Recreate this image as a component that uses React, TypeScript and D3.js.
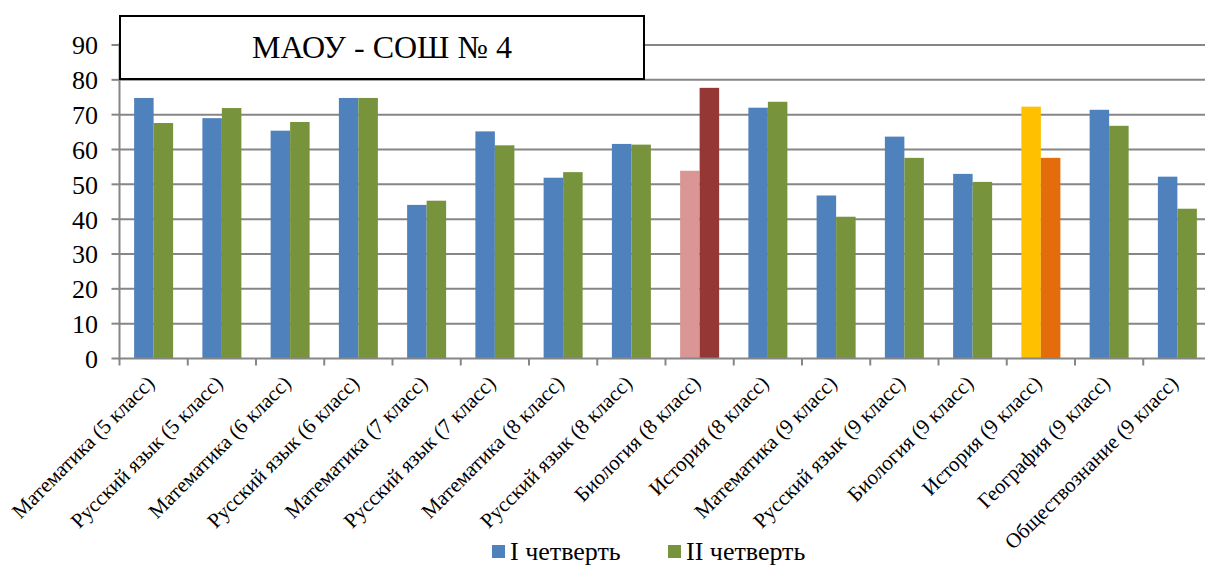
import React from 'react';
import * as d3 from 'd3';

const categories = [
  'Математика (5 класс)',
  'Русский язык (5 класс)',
  'Математика (6 класс)',
  'Русский язык (6 класс)',
  'Математика (7 класс)',
  'Русский язык (7 класс)',
  'Математика (8 класс)',
  'Русский язык (8 класс)',
  'Биология (8 класс)',
  'История (8 класс)',
  'Математика (9 класс)',
  'Русский язык (9 класс)',
  'Биология (9 класс)',
  'История (9 класс)',
  'География (9 класс)',
  'Обществознание (9 класс)',
];

const quarter1 = [74.8, 69.0, 65.4, 74.8, 44.1, 65.2, 51.9, 61.6, 53.9, 72.0, 46.8, 63.7, 53.0, 72.3, 71.4, 52.2];
const quarter2 = [67.6, 71.9, 67.9, 74.8, 45.3, 61.2, 53.5, 61.4, 77.7, 73.7, 40.7, 57.6, 50.7, 57.6, 66.8, 43.0];

const seriesNames = ['I четверть', 'II четверть'];
const yTicks = [0, 10, 20, 30, 40, 50, 60, 70, 80, 90];

const seriesColors = ['#4F81BD', '#77933C'];
// individually recoloured bars (category index -> [I, II])
const colorOverrides: Record<number, string[]> = {
  8: ['#D99694', '#953735'],
  13: ['#FFC000', '#E46C0A'],
};

const W = 1205;
const H = 566;
const margin = { left: 119.5, right: -6.5, top: 45, bottom: 207.5 };
const font = "'Liberation Serif', 'Times New Roman', serif";

export default function App() {
  const x = d3
    .scaleBand<string>()
    .domain(categories)
    .range([margin.left, W - margin.right])
    .paddingInner(0)
    .paddingOuter(0);
  const inner = d3.scaleBand<number>().domain([0, 1]).range([0, x.bandwidth()]).paddingInner(0).paddingOuter(0.75);
  const y = d3.scaleLinear().domain([0, 90]).range([H - margin.bottom, margin.top]);

  const rows = categories.map((c, i) => ({ c, i, vals: [quarter1[i], quarter2[i]] }));

  return (
    <svg width={W} height={H} style={{ position: 'absolute', left: 0, top: 0, background: '#fff', fontFamily: font }}>
      {/* grid */}
      {yTicks.map((t) => (
        <g key={t}>
          {t > 0 && (
            <line x1={margin.left} x2={W} y1={y(t)} y2={y(t)} stroke="#868686" strokeWidth={2} />
          )}
          <line x1={margin.left - 8} x2={margin.left} y1={y(t)} y2={y(t)} stroke="#868686" strokeWidth={2} />
          <text x={98} y={y(t)} dy="0.36em" textAnchor="end" fontSize={26} fill="#000">
            {t}
          </text>
        </g>
      ))}

      {/* bars */}
      {rows.map((r) =>
        r.vals.map((v, s) => {
          const col = colorOverrides[r.i] ? colorOverrides[r.i][s] : seriesColors[s];
          const bx = (x(r.c) ?? 0) + (inner(s) ?? 0);
          return (
            <rect
              key={r.c + s}
              x={bx}
              y={y(v)}
              width={inner.bandwidth()}
              height={y(0) - y(v)}
              fill={col}
            />
          );
        })
      )}

      {/* axes */}
      <line x1={margin.left} x2={margin.left} y1={margin.top - 2} y2={y(0) + 1} stroke="#868686" strokeWidth={2} />
      <line x1={margin.left} x2={W} y1={y(0)} y2={y(0)} stroke="#868686" strokeWidth={2} />
      {categories.map((c, i) => (
        <line
          key={'t' + i}
          x1={(x(c) ?? 0)}
          x2={(x(c) ?? 0)}
          y1={y(0)}
          y2={y(0) + 7}
          stroke="#868686"
          strokeWidth={2}
        />
      ))}

      {/* category labels */}
      {categories.map((c) => {
        const cx = (x(c) ?? 0) + x.bandwidth() / 2 + 2;
        const cy = y(0) + 26;
        return (
          <text
            key={'l' + c}
            transform={`translate(${cx},${cy}) rotate(-45)`}
            textAnchor="end"
            fontSize={21}
            fill="#000"
          >
            {c}
          </text>
        );
      })}

      {/* title box */}
      <rect x={120} y={16} width={524} height={63} fill="#fff" stroke="#000" strokeWidth={2} />
      <text x={382} y={58} textAnchor="middle" fontSize={32} fill="#000">
        МАОУ - СОШ № 4
      </text>

      {/* legend */}
      {seriesNames.map((n, i) => {
        const lx = 492 + i * 176;
        return (
          <g key={n}>
            <rect x={lx} y={545} width={13} height={13} fill={seriesColors[i]} />
            <text x={lx + 18} y={560} fontSize={26} fill="#000">
              {n}
            </text>
          </g>
        );
      })}
    </svg>
  );
}
